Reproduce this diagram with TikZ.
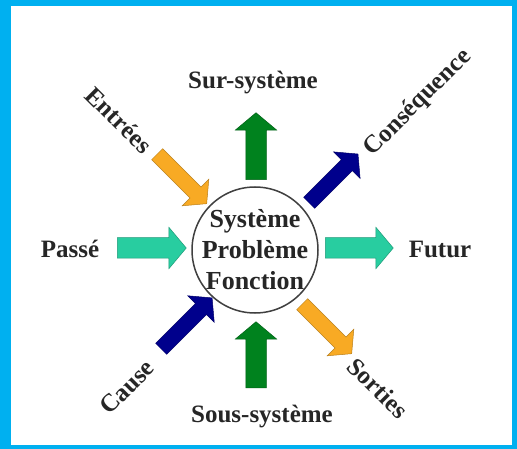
\documentclass[tikz,border=0pt]{standalone}
\usepackage{fontspec}
\setmainfont{Liberation Serif}
\usetikzlibrary{shapes.arrows}

\definecolor{framecyan}{RGB}{0,176,240}
\definecolor{arrowgreen}{RGB}{0,130,30}
\definecolor{arroworange}{RGB}{248,170,36}
\definecolor{arrownavy}{RGB}{0,0,140}
\definecolor{arrowteal}{RGB}{40,205,160}

\begin{document}
\begin{tikzpicture}[
        x=1pt, y=-1pt,
        lbl/.style={font=\bfseries\fontsize{25}{30}\selectfont, text=black!85, inner sep=0pt},
        blockarrow/.style={single arrow, anchor=tail, inner sep=0pt, text depth=0pt, single arrow tip angle=100, draw=#1!75!black, fill=#1, line width=0.5pt},
        straightarrow/.style={blockarrow=#1, text height=20pt, single arrow head extend=10.5pt},
        diagarrow/.style={blockarrow=#1, text height=15pt, single arrow head extend=11pt}
    ]

        % --- Frame ---
        \fill[framecyan] (0,0) rectangle (517,449);
        \fill[white] (11,6) rectangle (512,445);
        \useasboundingbox (0,0) rectangle (517,449);

        % --- Central circle ---
        \node (sys) [circle, draw=black!75, line width=1.5pt, minimum size=126pt, inner sep=0pt] at (255,250) {};
        \node (systxt) [align=center, inner sep=0pt, text=black!85, font=\bfseries\fontsize{26}{31}\selectfont] at (sys.center) {Système\\Problème\\Fonction};

        % --- Labels ---
        \node (sur) [lbl] at (253,83) {Sur-système};
        \node (sous) [lbl] at (262,417) {Sous-système};
        \node (passe) [lbl] at (70,249) {Passé};
        \node (futur) [lbl] at (440,249) {Futur};
        \node (entrees) [lbl, rotate=-45] at (119,120) {Entrées};
        \node (conseq) [lbl, rotate=45] at (418,103) {Conséquence};
        \node (cause) [lbl, rotate=45] at (127,387) {Cause};
        \node (sorties) [lbl, rotate=-45] at (378,388) {Sorties};

        % --- Block arrows ---
        \node (asur) [straightarrow=arrowgreen, minimum height=67pt, rotate=90] at (256,180) {};
        \node (asous) [straightarrow=arrowgreen, minimum height=66pt, rotate=90] at (256,388) {};
        \node (apasse) [straightarrow=arrowteal, minimum height=69pt] at (117,248) {};
        \node (afutur) [straightarrow=arrowteal, minimum height=68pt] at (325,248) {};
        \node (aentrees) [diagarrow=arroworange, minimum height=70pt, rotate=-45] at (157,154) {};
        \node (asorties) [diagarrow=arroworange, minimum height=70pt, rotate=-45] at (302,304) {};
        \node (aconseq) [diagarrow=arrownavy, minimum height=69pt, rotate=45] at (309,203) {};
        \node (acause) [diagarrow=arrownavy, minimum height=72pt, rotate=45] at (161,349) {};

    \end{tikzpicture}
\end{document}
